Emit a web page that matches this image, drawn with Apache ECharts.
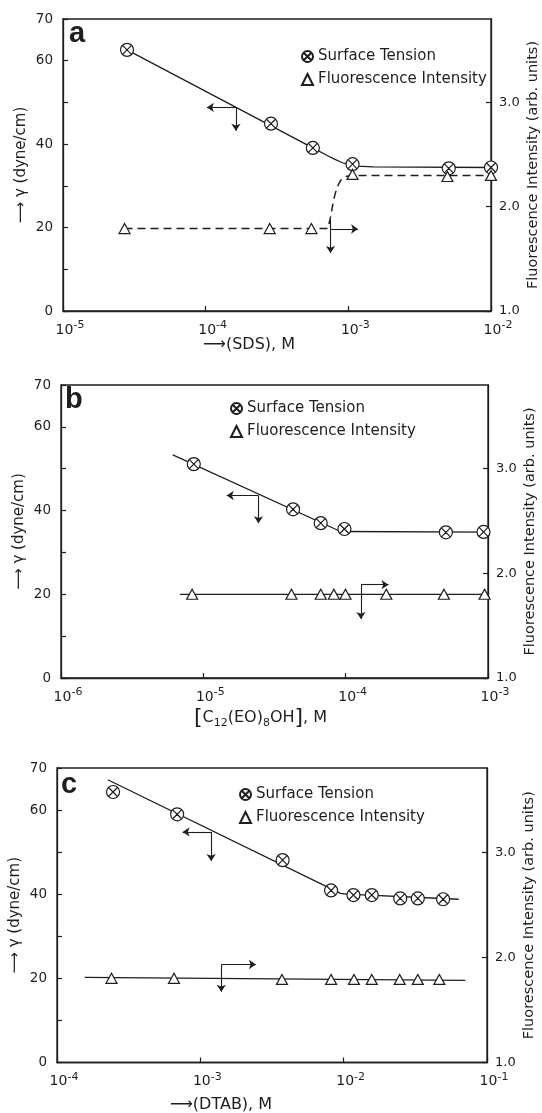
<!DOCTYPE html>
<html>
<head>
<meta charset="utf-8">
<script src="https://cdn.jsdelivr.net/npm/echarts@6/dist/echarts.min.js"></script>
<style>
html,body{margin:0;padding:0;background:#fff;overflow:hidden;}
#chart{width:542px;height:1113px;}
</style>
</head>
<body>
<div id="chart"></div>
<script>
// ---------- DATA ----------
// Panel a: SDS
const aST_x = [2.81e-5, 2.87e-4, 5.64e-4, 1.07e-3, 5.06e-3, 1.0e-2];
const aST_y = [62.6, 44.9, 39.1, 35.2, 34.2, 34.4];
const aFL_x = [2.70e-5, 2.81e-4, 5.51e-4, 1.07e-3, 4.95e-3, 1.0e-2];
const aFL_y = [1.79, 1.79, 1.79, 2.31, 2.29, 2.30];
const aSTfit_x = [2.81e-5, 5.64e-4, 7.0e-4, 8.0e-4, 9.0e-4, 1.0e-3, 1.15e-3, 1.5e-3, 1.0e-2];
const aSTfit_y = [62.6, 39.1, 37.4, 36.4, 35.6, 35.1, 34.75, 34.55, 34.4];
const aFLfit_x = [2.70e-5, 7.2e-4, 7.5e-4, 7.9e-4, 8.3e-4, 8.8e-4, 9.5e-4, 1.05e-3, 1.0e-2];
const aFLfit_y = [1.79, 1.79, 1.90, 2.07, 2.18, 2.25, 2.29, 2.30, 2.30];
const aArrows = [
  [[1.63e-4, 48.8], [1.02e-4, 48.8]],
  [[1.63e-4, 48.8], [1.63e-4, 43.2]],
  [[7.5e-4, 21.9], [7.5e-4, 13.9]],
  [[7.5e-4, 19.65], [1.17e-3, 19.65]]
];

// Panel b: C12(EO)8OH
const bST_x = [8.57e-6, 4.27e-5, 6.68e-5, 9.8e-5, 5.06e-4, 9.3e-4];
const bST_y = [51.1, 40.3, 37.0, 35.6, 34.8, 34.9];
const bFL_x = [8.34e-6, 4.16e-5, 6.68e-5, 8.26e-5, 9.97e-5, 1.93e-4, 4.9e-4, 9.46e-4];
const bFL_y = [1.80, 1.80, 1.80, 1.80, 1.80, 1.80, 1.80, 1.80];
const bSTfit_x = [6.1e-6, 9.2e-5, 1.0e-3];
const bSTfit_y = [53.3, 35.0, 34.85];
const bFLfit_x = [6.85e-6, 1.0e-3];
const bFLfit_y = [1.80, 1.80];
const bArrows = [
  [[2.44e-5, 43.6], [1.46e-5, 43.6]],
  [[2.44e-5, 43.6], [2.44e-5, 37.0]],
  [[1.28e-4, 22.3], [2.0e-4, 22.3]],
  [[1.28e-4, 22.3], [1.28e-4, 14.1]]
];

// Panel c: DTAB
const cST_x = [2.46e-4, 6.89e-4, 3.75e-3, 8.17e-3, 1.17e-2, 1.57e-2, 2.48e-2, 3.29e-2, 4.94e-2];
const cST_y = [64.3, 59.0, 48.1, 40.9, 39.8, 39.8, 39.0, 39.0, 38.8];
const cFL_x = [2.40e-4, 6.55e-4, 3.71e-3, 8.17e-3, 1.18e-2, 1.57e-2, 2.46e-2, 3.29e-2, 4.65e-2];
const cFL_y = [1.80, 1.80, 1.79, 1.79, 1.79, 1.79, 1.79, 1.79, 1.79];
const cSTfit_x = [2.26e-4, 9.5e-3, 1.05e-2, 6.34e-2];
const cSTfit_y = [67.2, 40.2, 40.0, 38.8];
const cFLfit_x = [1.56e-4, 7.05e-2];
const cFLfit_y = [1.81, 1.78];
const cArrows = [
  [[1.19e-3, 54.8], [7.52e-4, 54.8]],
  [[1.19e-3, 54.8], [1.19e-3, 47.9]],
  [[1.40e-3, 23.3], [2.44e-3, 23.3]],
  [[1.40e-3, 23.3], [1.40e-3, 16.8]]
];

const panelLabels = ['a', 'b', 'c'];
const xRanges = [[1e-5, 1e-2], [1e-6, 1e-3], [1e-4, 1e-1]];
const gammaTicks = {min: 0, max: 70, interval: 10};
const fluorTicks = {min: 1, max: 3.8, interval: 1};
const legendNames = ['Surface Tension', 'Fluorescence Intensity'];
const leftAxisName = '\u27F6 \u03B3 (dyne/cm)';
const rightAxisName = 'Fluorescence Intensity (arb. units)';

// ---------- BUILD ----------
const ink = '#1e1e1e';
const FONT = 'DejaVu Sans';
const zip = (xs, ys) => xs.map((x, i) => [x, ys[i]]);
const OTIMES = 'path://M10,0A10,10,0,1,1,-10,0A10,10,0,1,1,10,0ZM-6.5,-6.5L6.5,6.5M6.5,-6.5L-6.5,6.5';

const panels = [
  {st: zip(aST_x, aST_y), fl: zip(aFL_x, aFL_y), stFit: zip(aSTfit_x, aSTfit_y), flFit: zip(aFLfit_x, aFLfit_y), arrows: aArrows, dashed: true},
  {st: zip(bST_x, bST_y), fl: zip(bFL_x, bFL_y), stFit: zip(bSTfit_x, bSTfit_y), flFit: zip(bFLfit_x, bFLfit_y), arrows: bArrows, dashed: false},
  {st: zip(cST_x, cST_y), fl: zip(cFL_x, cFL_y), stFit: zip(cSTfit_x, cSTfit_y), flFit: zip(cFLfit_x, cFLfit_y), arrows: cArrows, dashed: false}
];

const grids = [
  {left: 63, right: 51, top: 19, height: 292},
  {left: 61, right: 54, top: 385, height: 293},
  {left: 57, right: 55, top: 768, height: 294.5}
];
const xNames = ['\u27F6(SDS), M', '{br|[}C{sub|12}(EO){sub|8}OH{br|]}, M', '\u27F6(DTAB), M'];
const xNameGaps = [26, 29, 34];
const xNamePads = [[0, 56, 0, 0], [0, 28, 0, 0], [0, 102, 0, 0]];
const legendPos = [{left: 296, top: 44}, {left: 225, top: 396}, {left: 234, top: 782}];
const titlePos = [{left: 69, top: 19}, {left: 65, top: 385}, {left: 61, top: 770}];

const option = {
  animation: false,
  backgroundColor: '#fff',
  title: panelLabels.map((t, i) => ({
    text: t, left: titlePos[i].left, top: titlePos[i].top, padding: 0,
    textStyle: {fontSize: 29, fontWeight: 'bold', fontFamily: 'Liberation Sans', color: ink}
  })),
  legend: legendPos.map(p => ({
    data: legendNames, orient: 'vertical', left: p.left, top: p.top,
    itemWidth: 11, itemHeight: 11, itemGap: 8, selectedMode: false,
    textStyle: {fontSize: 15, fontFamily: FONT, color: ink, lineHeight: 14}
  })),
  grid: grids.map(g => Object.assign({show: true, borderColor: ink, borderWidth: 1.3, containLabel: false, outerBoundsMode: 'none'}, g)),
  xAxis: xRanges.map((r, i) => ({
    type: 'log', logBase: 10, min: r[0], max: r[1], gridIndex: i,
    axisLine: {show: true, lineStyle: {color: ink, width: 1.3}},
    axisTick: {show: true, inside: true, length: 5, lineStyle: {color: ink, width: 1.2}},
    minorTick: {show: false}, splitLine: {show: false},
    axisLabel: {
      margin: 9, padding: [0, 0, 0, 14], color: ink, hideOverlap: false,
      formatter: v => '{b|10}{s|-' + Math.abs(Math.round(Math.log10(v))) + '}',
      rich: {
        b: {fontSize: 14, fontFamily: FONT, color: ink, lineHeight: 17, verticalAlign: 'bottom'},
        s: {fontSize: 11, fontFamily: FONT, color: ink, lineHeight: 11, verticalAlign: 'top'}
      }
    },
    name: xNames[i], nameLocation: 'middle', nameGap: xNameGaps[i], nameMoveOverlap: false,
    nameTextStyle: {
      fontSize: 16, fontFamily: FONT, color: ink, padding: xNamePads[i],
      rich: {
        br: {fontSize: 22, fontFamily: FONT, color: ink, lineHeight: 22},
        sub: {fontSize: 11, fontFamily: FONT, color: ink, lineHeight: 11, verticalAlign: 'bottom'}
      }
    }
  })),
  yAxis: [],
  series: []
};

grids.forEach((g, i) => {
  option.yAxis.push({
    type: 'value', gridIndex: i, position: 'left',
    min: gammaTicks.min, max: gammaTicks.max, interval: gammaTicks.interval,
    axisLine: {show: true, lineStyle: {color: ink, width: 1.3}},
    axisTick: {show: true, inside: true, length: 5, lineStyle: {color: ink, width: 1.2}},
    splitLine: {show: false},
    axisLabel: {margin: 10, fontSize: 13.5, fontFamily: FONT, color: ink,
      formatter: v => (v % 20 === 0 || v === 70) ? String(v) : ''},
    name: leftAxisName, nameLocation: 'middle', nameRotate: 90, nameGap: 34, nameMoveOverlap: false,
    nameTextStyle: {fontSize: 15, fontFamily: FONT, color: ink}
  });
  option.yAxis.push({
    type: 'value', gridIndex: i, position: 'right',
    min: fluorTicks.min, max: fluorTicks.max, interval: fluorTicks.interval,
    axisLine: {show: true, lineStyle: {color: ink, width: 1.3}},
    axisTick: {show: true, inside: true, length: 5, lineStyle: {color: ink, width: 1.2}},
    splitLine: {show: false},
    axisLabel: {margin: 8, fontSize: 13, fontFamily: FONT, color: ink, showMaxLabel: false,
      formatter: v => v.toFixed(1)},
    name: rightAxisName, nameLocation: 'middle', nameRotate: 90, nameGap: 35, nameMoveOverlap: false,
    nameTextStyle: {fontSize: 14.5, fontFamily: FONT, color: ink}
  });
});

panels.forEach((p, i) => {
  option.series.push({
    type: 'line', name: 'fitST' + i, xAxisIndex: i, yAxisIndex: 2 * i,
    data: p.stFit, symbol: 'none', showSymbol: false, silent: true, z: 2,
    lineStyle: {color: ink, width: 1.3},
    markLine: {
      silent: true, animation: false, symbol: ['none', 'arrow'], symbolSize: 7,
      label: {show: false}, emphasis: {disabled: true},
      lineStyle: {color: ink, width: 1.1, type: 'solid'},
      data: p.arrows.map(a => [{coord: a[0]}, {coord: a[1]}])
    }
  });
  option.series.push({
    type: 'line', name: 'fitFL' + i, xAxisIndex: i, yAxisIndex: 2 * i + 1,
    data: p.flFit, symbol: 'none', showSymbol: false, silent: true, z: 2,
    lineStyle: {color: ink, width: p.dashed ? 1.5 : 1.3, type: p.dashed ? [8, 5] : 'solid'}
  });
  option.series.push({
    type: 'scatter', name: legendNames[0], xAxisIndex: i, yAxisIndex: 2 * i,
    data: p.st, symbol: OTIMES, symbolSize: 13, z: 5,
    itemStyle: {color: '#fff', borderColor: ink, borderWidth: 1.2, opacity: 1}
  });
  option.series.push({
    type: 'scatter', name: legendNames[1], xAxisIndex: i, yAxisIndex: 2 * i + 1,
    data: p.fl, symbol: 'triangle', symbolSize: [11, 10], z: 5,
    itemStyle: {color: '#fff', borderColor: ink, borderWidth: 1.2, opacity: 1}
  });
});

const chart = echarts.init(document.getElementById('chart'), null, {renderer: 'canvas'});
chart.setOption(option);
</script>
</body>
</html>
